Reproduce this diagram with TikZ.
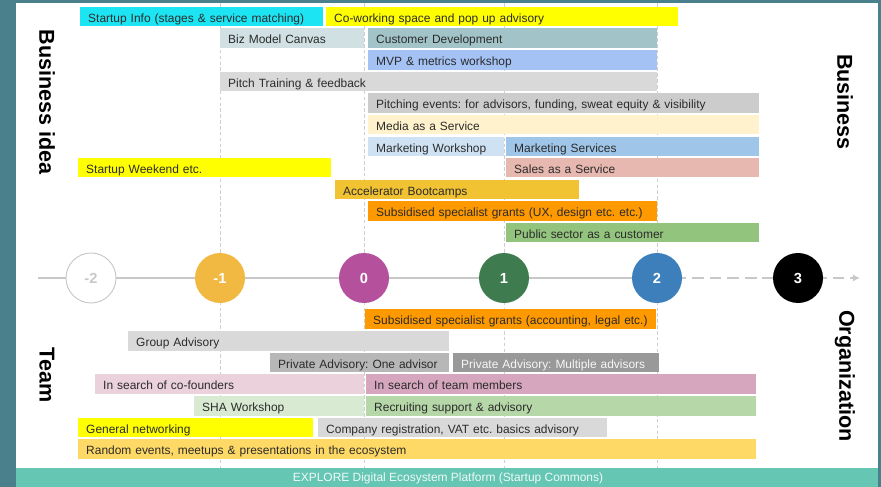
\documentclass[tikz,border=0pt]{standalone}
\usepackage{fontspec}
\setmainfont{Liberation Sans}
\usetikzlibrary{arrows.meta}
\frenchspacing

\definecolor{frame}{HTML}{4A7F8C}
\definecolor{band}{HTML}{65C6B4}
\definecolor{ink}{HTML}{2B2B2B}
\definecolor{guide}{HTML}{CFCFCF}
\definecolor{axis}{HTML}{C8C8C8}
\definecolor{cInfo}{HTML}{1DE4F2}
\definecolor{cYellow}{HTML}{FFFF00}
\definecolor{cCanvas}{HTML}{D0E0E3}
\definecolor{cCustDev}{HTML}{A2C4C9}
\definecolor{cMvp}{HTML}{A4C2F4}
\definecolor{cLight}{HTML}{D9D9D9}
\definecolor{cMid}{HTML}{CCCCCC}
\definecolor{cMedia}{HTML}{FFF2CC}
\definecolor{cMktWs}{HTML}{CFE2F3}
\definecolor{cMktSv}{HTML}{9FC5E8}
\definecolor{cSales}{HTML}{E6B8AF}
\definecolor{cBoot}{HTML}{F1C232}
\definecolor{cGrant}{HTML}{FF9900}
\definecolor{cPublic}{HTML}{93C47D}
\definecolor{cOne}{HTML}{B7B7B7}
\definecolor{cMulti}{HTML}{999999}
\definecolor{cCofound}{HTML}{EAD1DC}
\definecolor{cMembers}{HTML}{D5A6BD}
\definecolor{cSha}{HTML}{D9EAD3}
\definecolor{cRecruit}{HTML}{B6D7A8}
\definecolor{cRandom}{HTML}{FFD966}
\definecolor{sM1}{HTML}{F1B941}
\definecolor{sZero}{HTML}{B5509C}
\definecolor{sOne}{HTML}{3E7C4F}
\definecolor{sTwo}{HTML}{3D7FBA}

\begin{document}
\begin{tikzpicture}[x=0.03cm, y=-0.03cm,
    slab/.style={anchor=west, minimum height=0.585cm, inner ysep=0pt, inner xsep=0.24cm,
        text height=10.5pt, text depth=1pt,
        align=left, text=ink, font=\fontsize{10.2}{12}\selectfont},
    stage/.style={circle, minimum size=1.5cm, inner sep=0pt, text=white,
        font=\fontsize{12.5}{14}\selectfont\bfseries},
    side/.style={rotate=-90, text=black, font=\fontsize{18.4}{20}\selectfont\bfseries},
    guide/.style={draw=guide, line width=0.8pt, dash pattern=on 3pt off 2pt},
    axisline/.style={draw=axis, line width=2pt}]
    \def\slab#1#2#3#4#5#6{%
        \node[slab, fill=#5, text width={(#3-#2-16)*0.03cm}] (#1) at (#2,#4) {\mbox{#6}};
    }

    \useasboundingbox (0,0) rectangle (881,487);
    \fill[frame] (0,0) rectangle (881,487);
    \fill[white] (16,3) rectangle (878,468);
    \fill[band] (16,468) rectangle (878,487);
    \node[text=white!90!band, font=\fontsize{10.2}{12}\selectfont] (platform) at (448,478)
        {EXPLORE Digital Ecosystem Platform (Startup Commons)};

    % dashed guides under stages -1, 0, 1, 2
    \foreach \x in {220,364,504,657}
        \draw[guide] (\x,3) -- (\x,468);

    % business idea side
    \slab{info}{80}{323}{16.5}{cInfo}{Startup Info (stages \& service matching)}
    \slab{cowork}{326}{678}{16.5}{cYellow}{Co-working space and pop up advisory}
    \slab{canvas}{220}{364}{38}{cCanvas}{Biz Model Canvas}
    \slab{custdev}{368}{657}{38}{cCustDev}{Customer Development}
    \slab{mvp}{368}{657}{60}{cMvp}{MVP \& metrics workshop}
    \slab{pitchtr}{220}{657}{81.5}{cLight}{Pitch Training \& feedback}
    \slab{pitchev}{368}{759}{103}{cMid}{Pitching events: for advisors, funding, sweat equity \& visibility}
    \slab{media}{368}{759}{124.5}{cMedia}{Media as a Service}
    \slab{mktws}{368}{504}{146.5}{cMktWs}{Marketing Workshop}
    \slab{mktsv}{506}{759}{146.5}{cMktSv}{Marketing Services}
    \slab{weekend}{78}{331}{167.5}{cYellow}{Startup Weekend etc.}
    \slab{sales}{506}{759}{167.5}{cSales}{Sales as a Service}
    \slab{bootcamp}{335}{579}{189.5}{cBoot}{Accelerator Bootcamps}
    \slab{grantux}{368}{657}{211}{cGrant}{Subsidised specialist grants (UX, design etc. etc.)}
    \slab{public}{506}{759}{232.5}{cPublic}{Public sector as a customer}

    % stages on the time line
    \coordinate (axstart) at (38,278);
    \coordinate (axend) at (860,278);
    \foreach \n/\x in {m2/91, m1/220, 0/364, 1/504, 2/657, 3/798}
        \coordinate (c\n) at (\x,278);
    \draw[axisline] (axstart) -- (c2);
    \draw[axisline, dash pattern=on 10pt off 5pt, -{Latex[length=6pt,width=6pt]}] (c2) -- (axend);
    \node[stage, fill=white, draw=axis, line width=0.8pt, text=axis] (stm2) at (cm2) {-2};
    \node[stage, fill=sM1] (stm1) at (cm1) {-1};
    \node[stage, fill=sZero] (st0) at (c0) {0};
    \node[stage, fill=sOne] (st1) at (c1) {1};
    \node[stage, fill=sTwo] (st2) at (c2) {2};
    \node[stage, fill=black] (st3) at (c3) {3};

    % team side
    \slab{grantacc}{365}{656}{319}{cGrant}{Subsidised specialist grants (accounting, legal etc.)}
    \slab{group}{128}{449}{341}{cLight}{Group Advisory}
    \slab{oneadv}{270}{449}{362.5}{cOne}{Private Advisory: One advisor}
    \slab{multadv}{453}{659}{362.5}{cMulti, text=white!92!cMulti}{Private Advisory: Multiple advisors}
    \slab{cofound}{95}{364}{384}{cCofound}{In search of co-founders}
    \slab{members}{366}{756}{384}{cMembers}{In search of team members}
    \slab{sha}{194}{364}{406}{cSha}{SHA Workshop}
    \slab{recruit}{366}{756}{406}{cRecruit}{Recruiting support \& advisory}
    \slab{network}{78}{313}{427.5}{cYellow}{General networking}
    \slab{company}{318}{607}{427.5}{cLight}{Company registration, VAT etc. basics advisory}
    \slab{random}{78}{756}{449}{cRandom}{Random events, meetups \& presentations in the ecosystem}

    % axis names
    \node[side] (bizidea) at (47,102) {Business idea};
    \node[side] (business) at (845,102) {Business};
    \node[side] (team) at (47,375) {Team};
    \node[side] (organization) at (845,376) {Organization};
\end{tikzpicture}
\end{document}
